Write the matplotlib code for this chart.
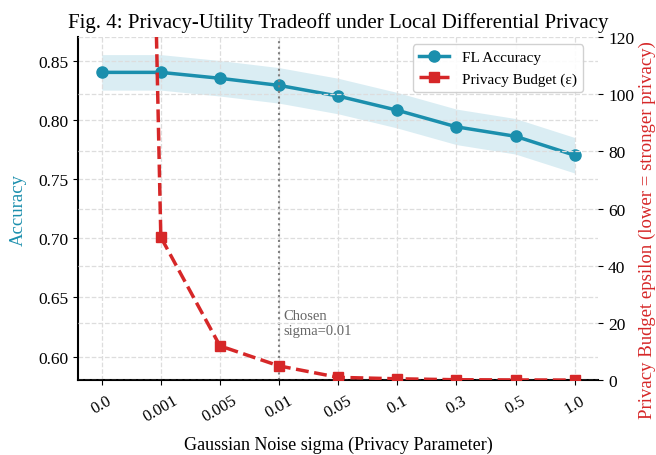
import numpy as np
import matplotlib
matplotlib.use('Agg')
import matplotlib.pyplot as plt

plt.rcParams['font.family'] = ['Liberation Serif', 'DejaVu Serif']

sigma_labels = ['0.0', '0.001', '0.005', '0.01', '0.05', '0.1', '0.3', '0.5', '1.0']
accuracy = [0.840, 0.840, 0.835, 0.829, 0.820, 0.808, 0.794, 0.786, 0.770]
acc_err = [0.015, 0.015, 0.015, 0.015, 0.015, 0.015, 0.015, 0.015, 0.015]
epsilon = [1000, 50, 12, 5, 1, 0.5, 0.17, 0.1, 0.05]
chosen_idx = 3

acc_col = '#1b8fad'
eps_col = '#d62728'

x = np.arange(len(sigma_labels))
acc = np.array(accuracy)
err = np.array(acc_err)

fig = plt.figure(figsize=(6.56, 4.56), dpi=100)
ax1 = fig.add_axes([0.119, 0.164, 0.793, 0.753])
ax2 = ax1.twinx()

ax1.fill_between(x, acc - err, acc + err, color='#add8e6', alpha=0.45, lw=0)
l1, = ax1.plot(x, acc, '-o', color=acc_col, lw=2.5, ms=8, label='FL Accuracy')
l2, = ax2.plot(x, epsilon, '--s', color=eps_col, lw=2.5, ms=7, label='Privacy Budget (ε)')

ax1.axvline(chosen_idx, color='gray', ls=':', lw=1.5)
ax1.text(chosen_idx + 0.08, 0.619, 'Chosen\nsigma=0.01', color='#666666', fontsize=10.5)

ax1.set_xlim(-0.4, 8.4)
ax1.set_ylim(0.58, 0.87)
ax2.set_ylim(0, 120)
ax1.set_xticks(x)
ax1.set_xticklabels(sigma_labels, rotation=30, fontsize=12)
ax1.set_yticks([0.60, 0.65, 0.70, 0.75, 0.80, 0.85])
ax1.tick_params(axis='y', labelsize=12.5)
ax2.tick_params(axis='y', labelsize=12.5)
ax1.tick_params(axis='x', pad=5)

ax1.grid(True, ls='--', color='#dddddd', lw=0.9)
ax2.grid(True, ls='--', color='#dddddd', lw=0.9, axis='y')

for sp in ['top', 'right']:
    ax1.spines[sp].set_visible(False)
for sp in ['top', 'right', 'left', 'bottom']:
    ax2.spines[sp].set_visible(False)
ax1.spines['left'].set_linewidth(1.5)
ax1.spines['bottom'].set_linewidth(1.5)

ax1.set_xlabel('Gaussian Noise sigma (Privacy Parameter)', fontsize=13, labelpad=8)
ax1.set_ylabel('Accuracy', color=acc_col, fontsize=13.5, labelpad=8)
ax2.set_ylabel('Privacy Budget epsilon (lower = stronger privacy)', color=eps_col, fontsize=13.5)
ax2.yaxis.set_label_coords(1.077, 0.44)
ax1.set_title('Fig. 4: Privacy-Utility Tradeoff under Local Differential Privacy', fontsize=15, pad=7)

ax2.legend([l1, l2], [l1.get_label(), l2.get_label()], loc='upper right',
           fontsize=11, framealpha=0.9, bbox_to_anchor=(0.985, 1.0))

fig.savefig('out.png', dpi=100)
